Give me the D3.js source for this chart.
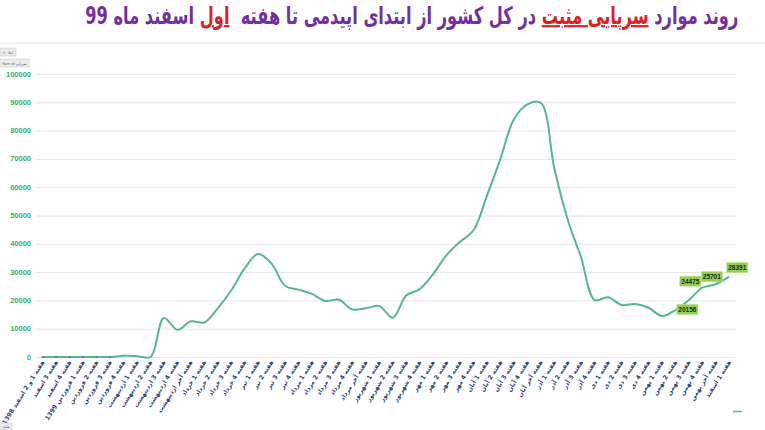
<!DOCTYPE html>
<html>
<head>
<meta charset="utf-8">
<script src="https://cdn.jsdelivr.net/npm/d3@7"></script>
<style>
  body { margin: 0; background: #fff; width: 765px; height: 430px; overflow: hidden; position: relative; }
  #title { position: absolute; right: 27px; top: 2px; direction: rtl; transform-origin: right top;
           font-family: "DejaVu Sans", sans-serif; font-weight: bold; font-size: 22px; color: #7030a0; white-space: nowrap; }
  #title .red { color: #e0201c; text-decoration: underline; text-decoration-thickness: 2px; }
  svg { position: absolute; left: 0; top: 0; }
</style>
</head>
<body>
<div id="title"></div>
<svg width="765" height="430"></svg>
<script>
// هفته ها
const weeks = [
  'هفته 1 و 2 اسفند 1398', 'هفته 3 اسفند', 'هفته 4 اسفند',
  'هفته 1 فروردین 1399', 'هفته 2 فروردین', 'هفته 3 فروردین', 'هفته 4 فروردین',
  'هفته 1 اردیبهشت', 'هفته 2 اردیبهشت', 'هفته 3 اردیبهشت', 'هفته 4 اردیبهشت', 'هفته آخر اردیبهشت',
  'هفته 1 خرداد', 'هفته 2 خرداد', 'هفته 3 خرداد', 'هفته 4 خرداد',
  'هفته 1 تیر', 'هفته 2 تیر', 'هفته 3 تیر', 'هفته 4 تیر',
  'هفته 1 مرداد', 'هفته 2 مرداد', 'هفته 3 مرداد', 'هفته 4 مرداد', 'هفته آخر مرداد',
  'هفته 1 شهریور', 'هفته 2 شهریور', 'هفته 3 شهریور', 'هفته 4 شهریور',
  'هفته 1 مهر', 'هفته 2 مهر', 'هفته 3 مهر', 'هفته 4 مهر',
  'هفته 1 آبان', 'هفته 2 آبان', 'هفته 3 آبان', 'هفته 4 آبان', 'هفته آخر آبان',
  'هفته 1 آذر', 'هفته 2 آذر', 'هفته 3 آذر', 'هفته 4 آذر',
  'هفته 1 دی', 'هفته 2 دی', 'هفته 3 دی', 'هفته 4 دی',
  'هفته 1 بهمن', 'هفته 2 بهمن', 'هفته 3 بهمن', 'هفته 4 بهمن', 'هفته آخر بهمن',
  'هفته 1 اسفند'
]

// موارد سرپایی مثبت
const positives = [
  0, 0, 0, 0, 0, 0, 400, 300, 0, 13800,
  9600, 12600, 12200, 17200, 23500, 31300, 36400, 33000, 25200, 23800,
  22300, 19800, 20200, 16800, 17200, 18000, 13900, 21700, 24000, 29300,
  36000, 40700, 44800, 57000, 70000, 84000, 89300, 89800, 66800, 48500,
  35000, 20100, 21100, 18400, 18700, 17400, 14500, 16600, 20156, 24475,
  25701, 28391
]

const yTicks = [0, 10000, 20000, 30000, 40000, 50000, 60000, 70000, 80000, 90000, 100000]

// last four weeks get a label
const labelled = [48, 49, 50, 51]

const data = weeks.map((w, i) => ({ week: w, value: positives[i], i: i }))

const title = d3.select('#title').html(
  'روند موارد <span class="red">سرپایی مثبت</span> در کل کشور از ابتدای اپیدمی تا هفته&nbsp; <span class="red">اول</span> اسفند ماه 99'
)
// fit title between x=85 and x=738
const tw = title.node().getBoundingClientRect().width
title.style('transform', `scale(${653 / tw}, 1.1)`)

const svg = d3.select('svg')

// thin line under title
svg.append('line')
  .attr('x1', 0).attr('x2', 765)
  .attr('y1', 43).attr('y2', 43)
  .attr('stroke', '#e4e4e4')

const xScale = d3.scalePoint()
  .domain(weeks)
  .range([36, 736])
  .padding(0.5)

const yScale = d3.scaleLinear()
  .domain([0, 100000])
  .range([357, 74])

// grid
svg.append('g')
  .attr('transform', 'translate(36,0)')
  .call(d3.axisLeft(yScale).tickValues(yTicks).tickSize(-700).tickFormat(''))
  .call(g => g.select('.domain').remove())
  .call(g => g.selectAll('line').attr('stroke', '#e6e6e6').attr('stroke-width', 1))

// y labels
svg.append('g')
  .selectAll('text')
  .data(yTicks)
  .enter()
  .append('text')
  .attr('x', 31)
  .attr('y', d => yScale(d) + 2.5)
  .attr('text-anchor', 'end')
  .attr('font-family', 'Arial, "Liberation Sans", sans-serif')
  .attr('font-weight', 'bold')
  .attr('font-size', 7.5)
  .attr('fill', '#2fb36c')
  .text(d => d)

// x labels
svg.append('g')
  .selectAll('text')
  .data(weeks)
  .enter()
  .append('text')
  .attr('transform', d => `translate(${xScale(d) + 2}, 362) rotate(-58)`)
  .attr('text-anchor', 'end')
  .attr('font-family', '"DejaVu Sans", sans-serif')
  .attr('font-weight', 'bold')
  .attr('font-size', 6.2)
  .attr('fill', '#2f3f78')
  .text(d => d)

const line = d3.line()
  .x(d => xScale(d.week))
  .y(d => yScale(d.value))
  .curve(d3.curveCatmullRom.alpha(0.5))

svg.append('path')
  .datum(data)
  .attr('d', line)
  .attr('fill', 'none')
  .attr('stroke', '#55b98c')
  .attr('stroke-width', 2)

// small markers where the line sits on zero
svg.append('g')
  .selectAll('circle')
  .data(data.filter(d => d.value === 0 && d.i < 6))
  .enter()
  .append('circle')
  .attr('cx', d => xScale(d.week))
  .attr('cy', d => yScale(d.value))
  .attr('r', 1.3)
  .attr('fill', '#6a7bb0')

// data labels
const offsets = { 48: [-1.5, 9.5], 49: [-12, -6.5], 50: [-4, -7.5], 51: [8, -9] }

const labels = svg.append('g')
  .selectAll('g')
  .data(data.filter(d => labelled.includes(d.i)))
  .enter()
  .append('g')
  .attr('transform', d => `translate(${xScale(d.week) + offsets[d.i][0]}, ${yScale(d.value) + offsets[d.i][1]})`)

labels.append('rect')
  .attr('x', -10.5).attr('y', -5)
  .attr('width', 21).attr('height', 10)
  .attr('fill', '#92d050')
  .attr('stroke', '#b5e08a')
  .attr('stroke-width', 0.6)

labels.append('text')
  .attr('y', 2.4)
  .attr('text-anchor', 'middle')
  .attr('font-family', 'Arial, "Liberation Sans", sans-serif')
  .attr('font-weight', 'bold')
  .attr('font-size', 6.5)
  .attr('fill', '#1e2a1e')
  .text(d => d.value)

// pivot field buttons
const buttons = [
  { t: 'ابتلا ۲۰', x: 0, y: 48, w: 16, h: 8 },
  { t: 'Sum of سرپایی', x: 0, y: 59, w: 29, h: 8 },
  { t: 'هفته', x: 0, y: 423, w: 12, h: 7 }
]
const btn = svg.append('g').selectAll('g').data(buttons).enter().append('g')
btn.append('rect')
  .attr('x', d => d.x).attr('y', d => d.y)
  .attr('width', d => d.w).attr('height', d => d.h)
  .attr('fill', '#ececec').attr('stroke', '#c8c8c8').attr('stroke-width', 0.5)
btn.append('text')
  .attr('x', d => d.x + d.w / 2).attr('y', d => d.y + d.h - 2)
  .attr('text-anchor', 'middle')
  .attr('font-family', '"DejaVu Sans", sans-serif')
  .attr('font-size', 3.5)
  .attr('fill', '#555')
  .text(d => d.t)

// legend stub
svg.append('line')
  .attr('x1', 733).attr('x2', 742)
  .attr('y1', 411.5).attr('y2', 411.5)
  .attr('stroke', '#55b98c')
  .attr('stroke-width', 1.5)
</script>
</body>
</html>
